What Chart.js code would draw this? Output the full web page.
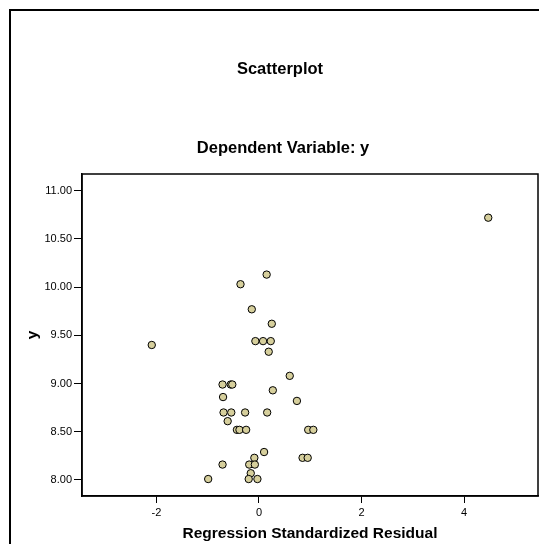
<!DOCTYPE html>
<html>
<head>
<meta charset="utf-8">
<script src="https://cdn.jsdelivr.net/npm/chart.js@4/dist/chart.umd.min.js"></script>
<style>
  html, body { margin: 0; padding: 0; background: #ffffff; }
  #wrap { position: relative; width: 539px; height: 544px; }
</style>
</head>
<body>
<div id="wrap"><canvas id="c" width="539" height="544"></canvas></div>
<script>
// ---- data ----
const residuals = [0.15, -0.36, -0.14, 0.25, -0.07, 0.08, 0.23, 0.19, 0.60, -0.71,
                   -0.55, -0.52, 0.27, -0.70, 0.74, -0.69, -0.54, -0.27, 0.16, -0.61,
                   -0.43, -0.38, -0.25, 0.96, 1.06, 0.10, -0.09, 0.85, 0.95, -0.71,
                   -0.19, -0.08, -0.16, -0.99, -0.20, -0.03, -2.09, 4.47];
const yValues   = [10.13, 10.03, 9.77, 9.62, 9.44, 9.44, 9.44, 9.33, 9.08, 8.99,
                   8.99, 8.99, 8.93, 8.86, 8.82, 8.70, 8.70, 8.70, 8.70, 8.61,
                   8.52, 8.52, 8.52, 8.52, 8.52, 8.29, 8.23, 8.23, 8.23, 8.16,
                   8.16, 8.16, 8.07, 8.01, 8.01, 8.01, 9.40, 10.72];
const xTicks = [-2, 0, 2, 4];
const yTicks = [8.0, 8.5, 9.0, 9.5, 10.0, 10.5, 11.0];
const titleText = 'Scatterplot';
const subtitleText = 'Dependent Variable: y';
const xTitle = 'Regression Standardized Residual';
const yTitle = 'y';

const FONT = "'Liberation Sans', Arial, Helvetica, sans-serif";
const points = residuals.map((x, i) => ({ x: x, y: yValues[i] }));

const framePlugin = {
  id: 'frame',
  beforeDraw(chart) {
    const ctx = chart.ctx;
    ctx.save();
    ctx.fillStyle = '#ffffff';
    ctx.fillRect(0, 0, chart.width, chart.height);
    ctx.strokeStyle = '#000000';
    ctx.lineWidth = 2;
    ctx.beginPath();
    ctx.moveTo(10, chart.height);
    ctx.lineTo(10, 10);
    ctx.lineTo(chart.width, 10);
    ctx.stroke();
    ctx.fillStyle = '#000000';
    ctx.textAlign = 'center';
    ctx.textBaseline = 'alphabetic';
    ctx.font = 'bold 16.5px ' + FONT;
    ctx.fillText(titleText, 280, 74);
    ctx.fillText(subtitleText, 283, 153);
    ctx.restore();
  },
  afterDatasetsDraw(chart) {
    const a = chart.chartArea;
    const ctx = chart.ctx;
    ctx.save();
    ctx.strokeStyle = '#000000';
    ctx.lineWidth = 1.5;
    ctx.strokeRect(a.left, a.top, a.right - a.left, a.bottom - a.top);
    ctx.restore();
  }
};

new Chart(document.getElementById('c'), {
  type: 'scatter',
  data: {
    datasets: [{
      data: points,
      backgroundColor: '#d6cf9c',
      borderColor: '#000000',
      borderWidth: 1,
      pointRadius: 3.7,
      pointHoverRadius: 3.7
    }]
  },
  options: {
    responsive: false,
    animation: false,
    events: [],
    layout: { autoPadding: false, padding: { top: 174, right: 1, left: 20, bottom: 0 } },
    plugins: { legend: { display: false }, tooltip: { enabled: false }, title: { display: false } },
    scales: {
      x: {
        type: 'linear',
        min: -3.45,
        max: 5.44,
        afterBuildTicks(scale) { scale.ticks = xTicks.map(v => ({ value: v })); },
        afterFit(scale) { scale.height = 48; scale.paddingLeft = 0; scale.paddingRight = 0; },
        grid: { display: true, drawOnChartArea: false, drawTicks: true, tickLength: 7, color: '#000000', lineWidth: 1 },
        border: { display: true, color: '#000000', width: 1.5 },
        ticks: { color: '#000000', font: { family: FONT, size: 11 }, padding: 3, maxRotation: 0,
                 callback: v => String(v) },
        title: { display: true, text: xTitle, color: '#000000', font: { family: FONT, size: 15.5, weight: 'bold' },
                 padding: { top: 0, bottom: 1 } }
      },
      y: {
        type: 'linear',
        min: 7.834,
        max: 11.173,
        afterBuildTicks(scale) { scale.ticks = yTicks.map(v => ({ value: v })); },
        afterFit(scale) { scale.width = 62; scale.paddingTop = 0; scale.paddingBottom = 0; },
        grid: { display: true, drawOnChartArea: false, drawTicks: true, tickLength: 8, color: '#000000', lineWidth: 1 },
        border: { display: true, color: '#000000', width: 1.5 },
        ticks: { color: '#000000', font: { family: FONT, size: 11 }, padding: 2,
                 callback: v => Number(v).toFixed(2) },
        title: { display: true, text: yTitle, color: '#000000', font: { family: FONT, size: 15.5, weight: 'bold' },
                 padding: { top: 3, bottom: 4 } }
      }
    }
  },
  plugins: [framePlugin]
});
</script>
</body>
</html>
